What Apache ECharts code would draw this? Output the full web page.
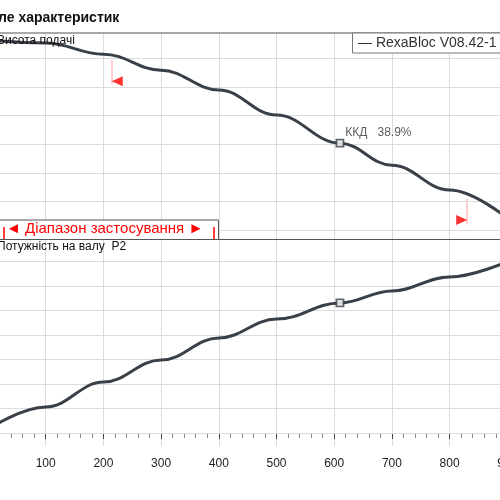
<!DOCTYPE html>
<html><head><meta charset="utf-8">
<script src="https://cdn.jsdelivr.net/npm/echarts@6/dist/echarts.min.js"></script>
<style>html,body{margin:0;padding:0;background:#fff}#c{width:500px;height:500px}</style>
</head><body><div id="c"></div>
<script>
const flow = [0,100,200,300,400,500,610,700,800,900];
const head = [6.64,6.54,6.15,5.59,4.9,4.02,3.04,2.27,1.4,0.42];
const power = [0.16,1.06,2.08,2.98,3.88,4.65,5.31,5.8,6.37,7.0];
const dutyFlow = 610, dutyHead = 3.04, dutyPower = 5.31;
const opRange = [215, 830];
const opHead = [5.9, 1.05];
const headGrid = [0,1,2,3,4,5,6];
const powerGrid = [0,1,2,3,4,5,6,7];
const xTicks = [0,100,200,300,400,500,600,700,800,900];

const chart = echarts.init(document.getElementById('c'));
const lineC = '#3a4048';
const gridLines = v => ({silent:true,symbol:'none',label:{show:false},lineStyle:{color:'#dcdcdc',type:'solid',width:1},data:v.map(y=>({yAxis:y}))});
const g = {outerBoundsMode:'none',containLabel:false};
chart.setOption({
  animation:false,
  grid:[Object.assign({left:-12,top:33,width:519.3,height:206},g),Object.assign({left:-12,top:239,width:519.3,height:207},g)],
  xAxis:[
    {gridIndex:0,type:'value',min:0,max:900,interval:100,axisLine:{show:false},axisTick:{show:false},axisLabel:{show:false},splitLine:{lineStyle:{color:'#dcdcdc'}}},
    {gridIndex:1,type:'value',min:0,max:900,interval:100,axisLine:{lineStyle:{color:'#222'}},axisTick:{length:6,lineStyle:{color:'#444'}},minorTick:{show:true,splitNumber:5,length:5,lineStyle:{color:'#888'}},
     axisLabel:{color:'#222',fontSize:12,fontFamily:'Liberation Sans',margin:12,formatter:v=>xTicks.includes(v)&&v>0?String(v):''},splitLine:{lineStyle:{color:'#dcdcdc'}}}
  ],
  yAxis:[
    {gridIndex:0,type:'value',min:-0.31,max:6.89,show:false,splitLine:{show:false}},
    {gridIndex:1,type:'value',min:-0.53,max:7.92,show:false,splitLine:{show:false}}
  ],
  series:[
    {type:'line',xAxisIndex:0,yAxisIndex:0,data:[],markLine:gridLines(headGrid)},
    {type:'line',xAxisIndex:1,yAxisIndex:1,data:[],markLine:gridLines(powerGrid)},
    {type:'line',xAxisIndex:0,yAxisIndex:0,smooth:0.4,smoothMonotone:'x',symbol:'none',lineStyle:{color:lineC,width:3},data:flow.map((x,i)=>[x,head[i]]),z:5},
    {type:'line',xAxisIndex:1,yAxisIndex:1,smooth:0.4,smoothMonotone:'x',symbol:'none',lineStyle:{color:lineC,width:3},data:flow.map((x,i)=>[x,power[i]]),z:5},
    {type:'scatter',xAxisIndex:0,yAxisIndex:0,symbol:'rect',symbolSize:7,itemStyle:{color:'#fff',borderColor:lineC,borderWidth:1.8},data:[[dutyFlow,dutyHead]],z:6,
     label:{show:true,position:'right',offset:[-4,-10],formatter:'ККД   38.9%',color:'#333',fontSize:12,fontFamily:'Liberation Sans'}},
    {type:'scatter',xAxisIndex:1,yAxisIndex:1,symbol:'rect',symbolSize:7,itemStyle:{color:'#fff',borderColor:lineC,borderWidth:1.8},data:[[dutyFlow,dutyPower]],z:6},
    {type:'lines',coordinateSystem:'cartesian2d',xAxisIndex:0,yAxisIndex:0,lineStyle:{color:'#ff8080',width:1.5},z:4,
     data:[{coords:[[opRange[0],opHead[0]+0.05],[opRange[0],opHead[0]-0.8]]},{coords:[[opRange[1],opHead[1]+0.05],[opRange[1],opHead[1]-0.85]]}]},
    {type:'scatter',xAxisIndex:0,yAxisIndex:0,symbol:'triangle',symbolSize:[10,11],itemStyle:{color:'#ff0000'},z:6,
     data:[{value:[opRange[0]+9,opHead[0]-0.7],symbolRotate:90},{value:[opRange[1]-9,opHead[1]-0.7],symbolRotate:-90}]}
  ],
  graphic:[
    {type:'line',shape:{x1:0,y1:33,x2:500,y2:33},style:{stroke:'#555',lineWidth:1.2},z:10},
    {type:'line',shape:{x1:0,y1:239.5,x2:500,y2:239.5},style:{stroke:'#555',lineWidth:1.2},z:10},
    {type:'text',left:-2,top:11,style:{text:'ле характеристик',font:'bold 14px "Liberation Sans"',fill:'#111'}},
    {type:'text',left:-3,top:35,style:{text:'Висота подачі',font:'12px "Liberation Sans"',fill:'#111'},z:10},
    {type:'text',left:-3,top:241,style:{text:'Потужність на валу  P2',font:'12px "Liberation Sans"',fill:'#111'},z:10},
    {type:'rect',shape:{x:352.5,y:33,width:160,height:20},style:{fill:'#fff',stroke:'#777',lineWidth:1},z:10},
    {type:'text',left:358,top:36,style:{text:'— RexaBloc V08.42-1',font:'14px "Liberation Sans"',fill:'#333'},z:11},
    {type:'rect',shape:{x:-5,y:220,width:223.5,height:19.5},style:{fill:'#fff',stroke:'#555',lineWidth:1},z:10},
    {type:'text',left:6,top:221,style:{text:'◄ Діапазон застосування ►',font:'15px "Liberation Sans"',fill:'#ff0000'},z:11},
    {type:'line',shape:{x1:4,y1:227,x2:4,y2:239},style:{stroke:'#ff0000',lineWidth:1.5},z:11},
    {type:'line',shape:{x1:214,y1:227,x2:214,y2:239},style:{stroke:'#ff0000',lineWidth:1.5},z:11}
  ]
});
</script></body></html>
